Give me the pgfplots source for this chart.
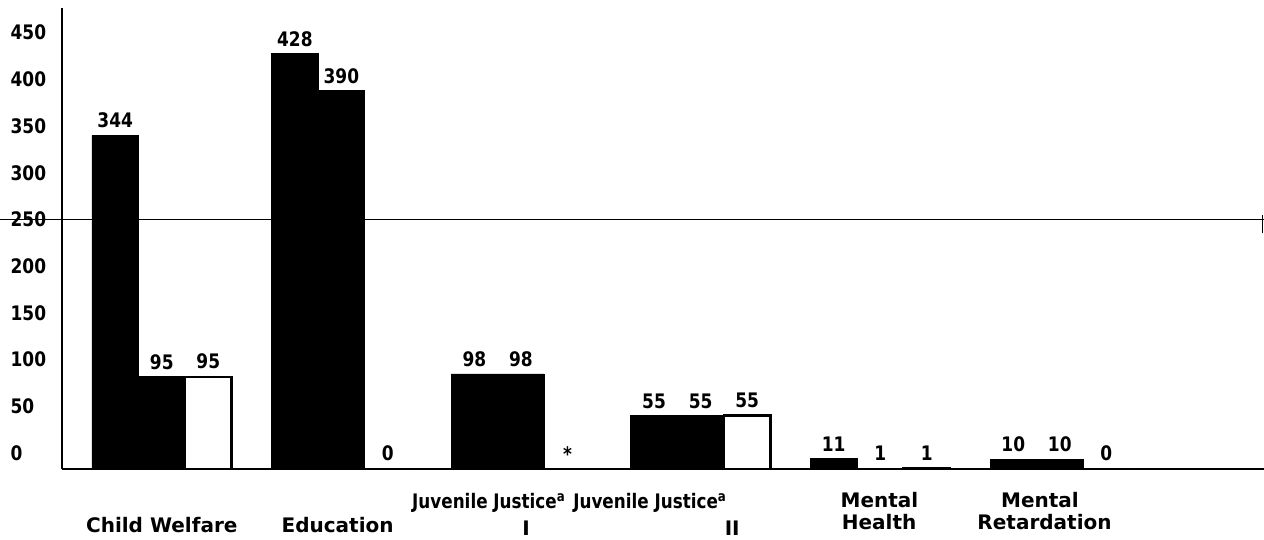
\documentclass[border=0pt]{standalone}
\usepackage{fontspec}
\setmainfont{DejaVu Sans}
\newfontfamily\numfont{DejaVu Sans}[FakeStretch=0.85]
\newfontfamily\labfont{DejaVu Sans}
\newfontfamily\jjfont{DejaVu Sans}[FakeStretch=0.84]
\usepackage{pgfplots}
\pgfplotsset{compat=1.18}
\usepackage{pgfplotstable}
\pgfplotsset{/pgf/number format/assume math mode=true}
\newcommand\lowstar{\raisebox{-2.5pt}{*}}

% x: 0 Child Welfare, 1 Education, 2 Juvenile Justice I, 3 Juvenile Justice II, 4 Mental Health, 5 Mental Retardation
\pgfplotstableread{
x y lab
0 344 344
1 428 428
2 98 98
3 55 55
4 11 11
5 10 10
}\seriesA
\pgfplotstableread{
x y lab
0 95 95
1 390 390
2 98 98
3 55 55
4 1 1
5 10 10
}\seriesB
\pgfplotstableread{
x y lab
0 95 95
1 0 0
2 0 \lowstar
3 55 55
4 1 1
5 0 0
}\seriesC

\begin{document}
\begin{tikzpicture}
\path[use as bounding box] (-31pt,-35.5pt) rectangle (601pt,234.5pt);
\begin{axis}[
  scale only axis, width=601pt, height=230.5pt,
  xmin=-0.5554, xmax=6.137, ymin=0, ymax=475.3,
  axis lines*=left, axis line style={line width=1.3pt},
  xtick=\empty,
  ytick={16.5,64.7,112.8,161,209.1,257.3,305.4,353.6,401.7,449.9},
  yticklabels={0,50,100,150,200,250,300,350,400,450},
  major tick length=0pt,
  yticklabel style={anchor=west, xshift=-29.2pt, font=\numfont\bfseries},
  ybar=0pt, bar width=0.259,
  nodes near coords, point meta=explicit symbolic,
  every node near coord/.append style={font=\numfont\bfseries, black},
  clip=false,
]
\addplot[fill=black, draw=black] table[x=x,y=y,meta=lab]{\seriesA};
\addplot[fill=black, draw=black] table[x=x,y=y,meta=lab]{\seriesB};
\addplot[fill=white, draw=black, line width=1.2pt] table[x=x,y=y,meta=lab]{\seriesC};
\draw[line width=0.7pt] (axis cs:-0.9,257) -- (axis cs:6.137,257);
\draw[line width=0.7pt] (axis cs:6.13,243) -- (axis cs:6.13,262);
\node[font=\labfont\bfseries] at (axis cs:0,-57.7) {Child Welfare};
\node[font=\labfont\bfseries] at (axis cs:0.979,-57.7) {Education};
\node[font=\jjfont\bfseries] at (axis cs:1.822,-35) {Juvenile Justice\textsuperscript{a}};
\node[font=\labfont\bfseries] at (axis cs:2.028,-61) {I};
\node[font=\jjfont\bfseries] at (axis cs:2.719,-35) {Juvenile Justice\textsuperscript{a}};
\node[font=\labfont\bfseries] at (axis cs:3.176,-61) {II};
\node[font=\labfont\bfseries] at (axis cs:3.996,-32) {Mental};
\node[font=\labfont\bfseries] at (axis cs:3.994,-54.6) {Health};
\node[font=\labfont\bfseries] at (axis cs:4.89,-32) {Mental};
\node[font=\labfont\bfseries] at (axis cs:4.915,-54.6) {Retardation};
\end{axis}
\end{tikzpicture}
\end{document}
